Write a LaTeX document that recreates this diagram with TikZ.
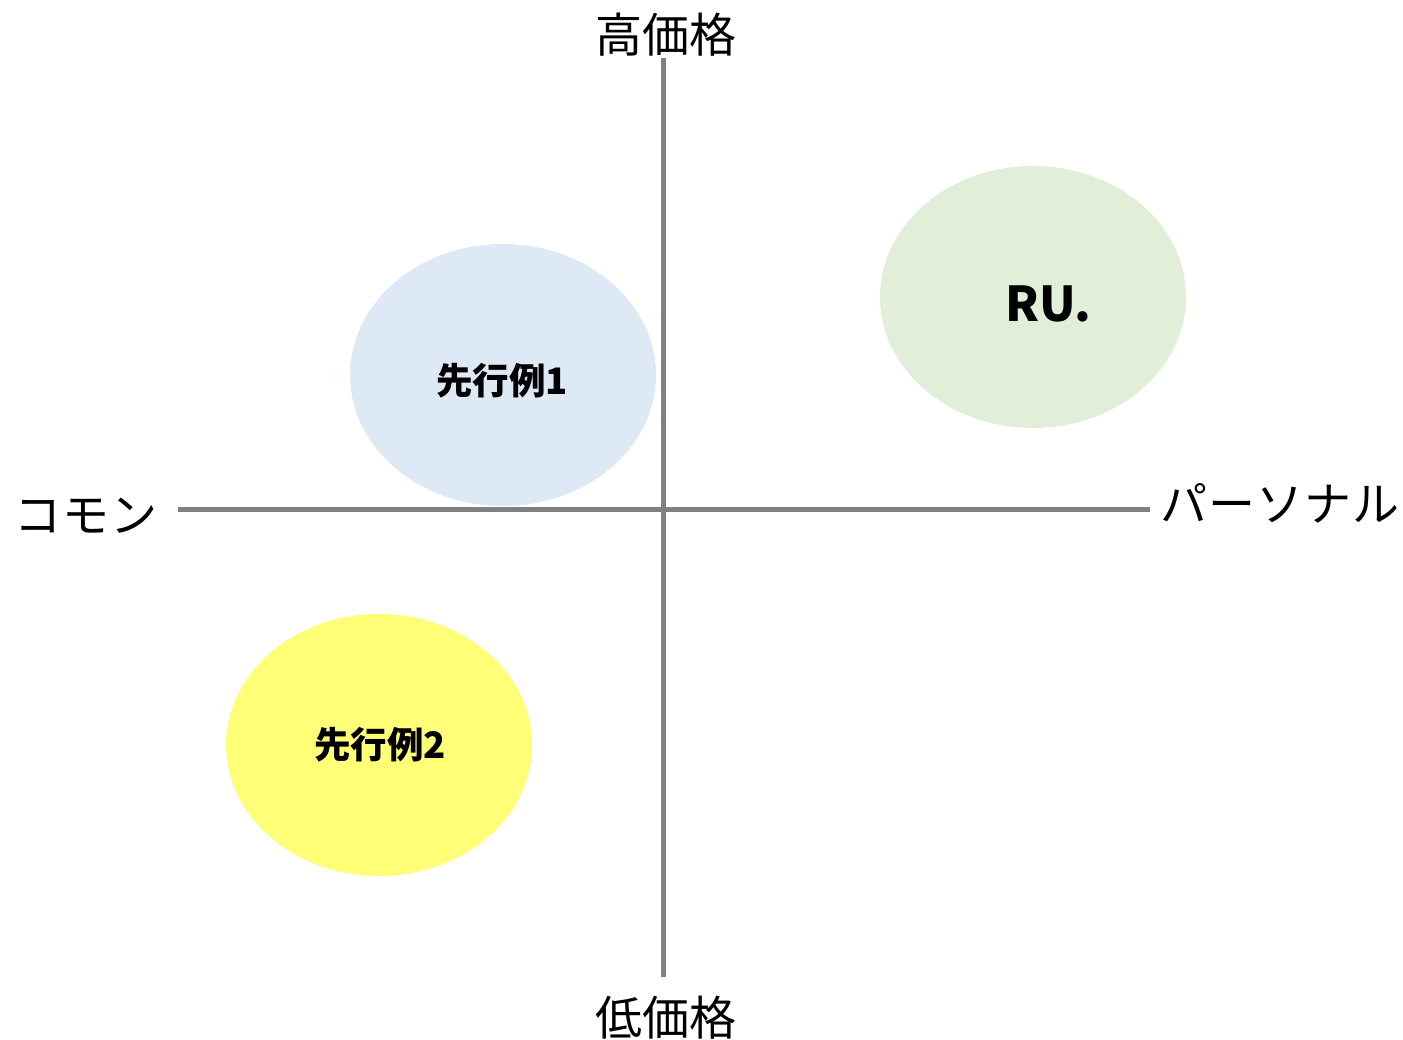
\documentclass[tikz,border=0pt]{standalone}
\usepackage{fontspec}
\setmainfont{Noto Sans CJK JP}
\begin{document}
\begin{tikzpicture}[x=1pt,y=-1pt,
  axis/.style={draw=axisgray,line width=5pt},
  axlabel/.style={font=\fontsize{47}{50}\selectfont,inner sep=0pt,anchor=center},
  bloblabel/.style={font=\bfseries\fontsize{36.5}{40}\selectfont,inner sep=0pt,anchor=center}]
\definecolor{axisgray}{HTML}{808080}
\definecolor{bluefill}{HTML}{DDE9F4}
\definecolor{greenfill}{HTML}{E1EFD9}
\definecolor{yellowfill}{HTML}{FFFF77}
\useasboundingbox (0,0) rectangle (1403,1040);
\fill[white] (0,0) rectangle (1403,1040);
\coordinate (top) at (663,58);
\coordinate (bot) at (663,977);
\coordinate (lft) at (178,509);
\coordinate (rgt) at (1150,509);
\fill[bluefill] (503,375) ellipse [x radius=153, y radius=131];
\fill[greenfill] (1033,297) ellipse [x radius=153, y radius=131];
\fill[yellowfill] (379,745) ellipse [x radius=153, y radius=131];
\draw[axis] (top) -- (bot);
\draw[axis] (lft) -- (rgt);
\node[axlabel] (hi) at (666,35) {高価格};
\node[axlabel] (lo) at (666,1018) {低価格};
\node[axlabel] (cm) at (86,516) {コ\hspace{1pt}モ\hspace{1pt}ン};
\node[axlabel] (ps) at (1280,503) {パ\hspace{1pt}ー\hspace{1pt}ソ\hspace{1pt}ナ\hspace{1pt}ル};
\node[bloblabel] (s1) at (502,381) {先行例1};
\node[bloblabel] (s2) at (380,745) {先行例2};
\node[bloblabel,font=\bfseries\fontsize{48}{52}\selectfont] (ru) at (1048,304) {RU.};
\end{tikzpicture}
\end{document}
